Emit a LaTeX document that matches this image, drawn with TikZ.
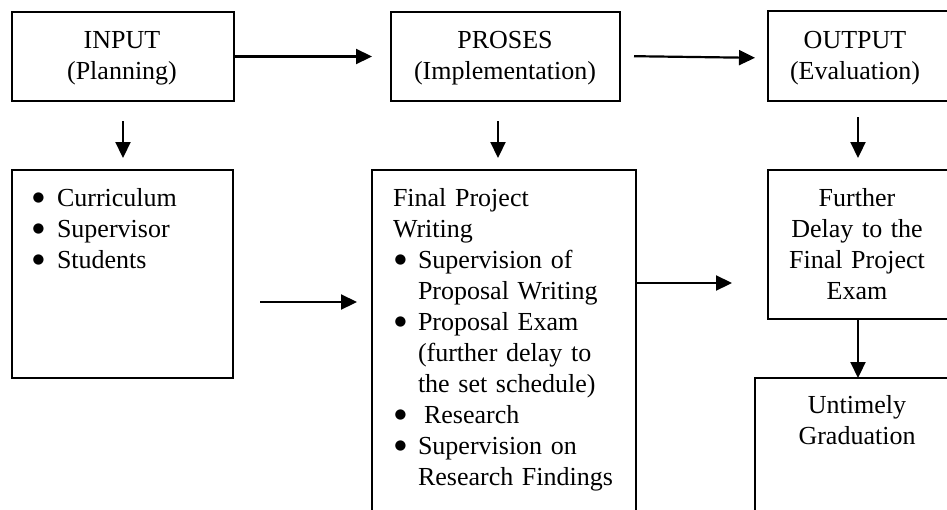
\documentclass[tikz,border=0pt]{standalone}
\usepackage{fontspec}
\setmainfont{Liberation Serif}
\newfontfamily\bulfont{DejaVu Sans}
\usetikzlibrary{arrows.meta}
\newcommand\bigbul{\raisebox{4.6pt}{\bulfont\fontsize{13.5pt}{13.5pt}\selectfont ●}}
\newcommand\mybul[2]{\makebox[#1][l]{\hspace*{#2}\bigbul}}
\begin{document}
\begin{tikzpicture}[x=1pt,y=-1pt,
  box/.style={draw, line width=1.5pt, inner sep=0pt, outer sep=0pt},
  txt/.style={inner sep=0pt, outer sep=0pt, font=\fontsize{26pt}{31pt}\selectfont},
  arr/.style={line width=2.2pt, -{Triangle[length=16pt,width=15pt]}}]
\useasboundingbox (0,0) rectangle (947,509);
\clip (0,0) rectangle (947,509);
\fill[white] (0,0) rectangle (947,509);
% boxes
\node[box, minimum width=222pt, minimum height=89pt] (input) at (123,56.5) {};
\node[box, minimum width=229pt, minimum height=89pt] (proses) at (505.5,56.5) {};
\node[box, minimum width=180pt, minimum height=90pt] (output) at (858,56) {};
\node[box, minimum width=221pt, minimum height=208pt] (curr) at (122.5,274) {};
\node[box, minimum width=264pt, minimum height=360pt] (final) at (504,350) {};
\node[box, minimum width=180pt, minimum height=149pt] (further) at (858,244.5) {};
\node[box, minimum width=206pt, minimum height=152pt] (untim) at (858,454) {};
% texts
\node[txt, anchor=base, text width=220pt, align=center] (tinput) at (122,48) {INPUT\\(Planning)};
\node[txt, anchor=base, text width=225pt, align=center] (tproses) at (505,48) {PROSES\\(Implementation)};
\node[txt, anchor=base, text width=176pt, align=center] (toutput) at (855,48) {OUTPUT\\(Evaluation)};
\node[txt, anchor=base west, text width=195pt, align=left] (tcurr) at (33,206)
  {\mybul{24pt}{-0.5pt}Curriculum\\\mybul{24pt}{-0.5pt}Supervisor\\\mybul{24pt}{-0.5pt}Students};
\node[txt, anchor=base west, text width=240pt, align=left] (tfinal) at (393,206)
  {Final Project\\
   Writing\\
   \mybul{25pt}{1.5pt}Supervision of\\
   \hspace*{25pt}Proposal Writing\\
   \mybul{25pt}{1.5pt}Proposal Exam\\
   \hspace*{25pt}(further delay to\\
   \hspace*{25pt}the set schedule)\\
   \mybul{25pt}{1.5pt}\hspace*{6pt}Research\\
   \mybul{25pt}{1.5pt}Supervision on\\
   \hspace*{25pt}Research Findings};
\node[txt, anchor=base, text width=176pt, align=center] (tfurther) at (857,206)
  {Further\\Delay to the\\Final Project\\Exam};
\node[txt, anchor=base, text width=190pt, align=center] (tuntim) at (857,413)
  {Untimely\\Graduation};
% connectors
\draw[arr, shorten >=19pt] (input.east) -- (proses.west);
\draw[arr, shorten <=14pt, shorten >=13pt] ([yshift=0.5pt]proses.east) -- ([yshift=-2pt]output.west);
\draw[arr, shorten <=20pt, shorten >=12pt] (input.south) -- (input.south |- curr.north);
\draw[arr, shorten <=20pt, shorten >=12pt] ([xshift=-7.5pt]proses.south) -- ([xshift=-7.5pt]proses.south |- final.north);
\draw[arr, shorten <=16pt, shorten >=12pt] (output.south) -- (further.north);
\draw[arr, shorten <=27pt, shorten >=15pt] ([yshift=-28pt]curr.east) -- ([yshift=-28pt]curr.east -| final.west);
\draw[arr, shorten >=36pt] ([yshift=67pt]final.east) -- ([yshift=67pt]final.east -| further.west);
\draw[arr] (further.south) -- (untim.north);
\end{tikzpicture}
\end{document}
